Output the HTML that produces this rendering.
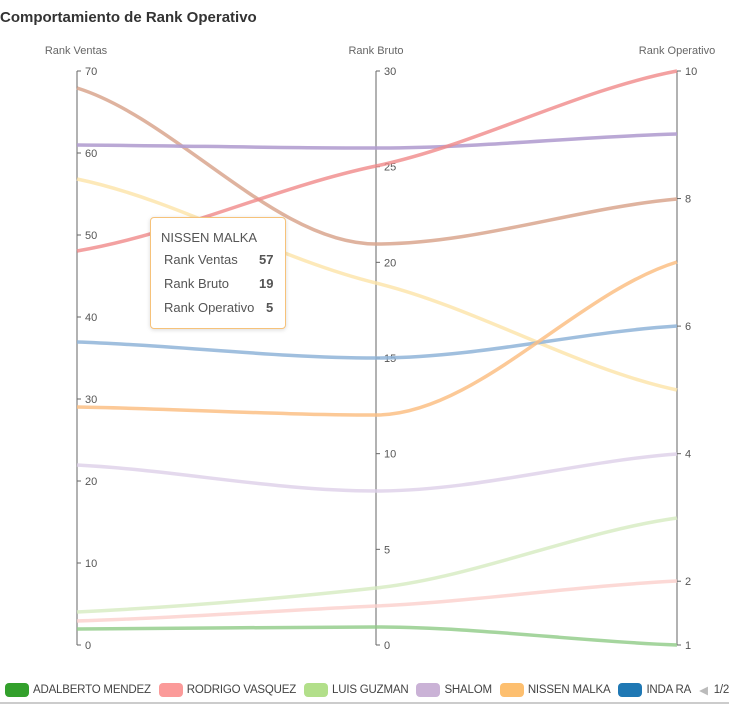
<!DOCTYPE html>
<html><head><meta charset="utf-8"><style>
body{margin:0;background:#fff;width:729px;height:707px;overflow:hidden;font-family:"Liberation Sans",sans-serif;position:relative}
.t{position:absolute;left:0;top:9px;font-size:15px;font-weight:bold;color:#333}
.tip{position:absolute;left:150px;top:217px;width:134px;height:110px;border:1px solid #f6c27a;border-radius:4px;background:#fff;box-shadow:0 1px 4px rgba(0,0,0,.15);font-size:13px;color:#555}
.tip div{position:absolute}
.lg{position:absolute;top:683px;font-size:11.5px;color:#444;display:flex;align-items:center;left:5px;white-space:nowrap;letter-spacing:-0.2px}
.lg span.b{display:inline-block;width:24px;height:14px;border-radius:4px;margin-right:4px}
.lg span.i{margin-right:8px}
</style></head><body>
<div class="t">Comportamiento de Rank Operativo</div>
<svg width="729" height="707" style="position:absolute;left:0;top:0" id="s">
<g font-size="11" fill="#666" font-family="Liberation Sans,sans-serif">
<text x="76" y="54" text-anchor="middle">Rank Ventas</text>
<text x="376" y="54" text-anchor="middle">Rank Bruto</text>
<text x="677" y="54" text-anchor="middle">Rank Operativo</text>
</g>
<g id="ax" stroke="#666" stroke-width="1" fill="none"></g>
<g id="lab" font-size="11" fill="#555" font-family="Liberation Sans,sans-serif"></g>
<g id="ln" fill="none" stroke-width="3.5"></g>
<line x1="0" y1="703" x2="729" y2="703" stroke="#ccc" stroke-width="2"/>
</svg>
<div class="tip">
<div style="left:10px;top:12px">NISSEN MALKA</div>
<div style="left:13px;top:34px">Rank Ventas</div><div style="left:108px;top:34px;font-weight:bold">57</div>
<div style="left:13px;top:58px">Rank Bruto</div><div style="left:108px;top:58px;font-weight:bold">19</div>
<div style="left:13px;top:82px">Rank Operativo</div><div style="left:115px;top:82px;font-weight:bold">5</div>
</div>
<div class="lg">
<span class="b" style="background:#33a02c"></span><span class="i">ADALBERTO MENDEZ</span>
<span class="b" style="background:#fb9a99"></span><span class="i">RODRIGO VASQUEZ</span>
<span class="b" style="background:#b2df8a"></span><span class="i">LUIS GUZMAN</span>
<span class="b" style="background:#cab2d6"></span><span class="i">SHALOM</span>
<span class="b" style="background:#fdbf6f"></span><span class="i">NISSEN MALKA</span>
<span class="b" style="background:#1f78b4"></span><span class="i">INDA RA</span>
<span style="color:#bbb">◀</span><span style="margin-left:6px">1/2</span>
</div>
<script>
(function(){
var NS="http://www.w3.org/2000/svg";
function el(p,t,a,txt){var e=document.createElementNS(NS,t);for(var k in a)e.setAttribute(k,a[k]);if(txt!=null)e.textContent=txt;document.getElementById(p).appendChild(e);}
var xs=[77,376,677],yT=71,yB=645;
xs.forEach(function(x){el('ax','line',{x1:x,y1:yT,x2:x,y2:yB});});
function ticks(x,vals,f){vals.forEach(function(v){var y=f(v);el('ax','line',{x1:x,y1:y,x2:x+4,y2:y});el('lab','text',{x:x+8,y:y+4},v);});}
ticks(77,[0,10,20,30,40,50,60,70],function(v){return yB-(yB-yT)*v/70});
ticks(376,[0,5,10,15,20,25,30],function(v){return yB-(yB-yT)*v/30});
ticks(677,[1,2,4,6,8,10],function(v){return yB-(yB-yT)*(v-1)/9});
var L=[["#d9a68e",88,244,199,.85],["#b39fd0",145,148,134,.9],["#f08a8a",251,166,71,.8],["#fde3a7",179,283,390,.8],["#8fb4d8",342,358,326,.85],["#fbbf85",407,415,262,.85],["#ddd0e8",465,491,454,.8],["#d6ebc0",612,588,518,.8],["#fbcfcc",621,606,581,.8],["#8fca86",629,627,645,.8]];
L.forEach(function(l){var y=[l[1],l[2],l[3]];var s0=(y[1]-y[0])/300,s1=(y[2]-y[1])/300;var m=(s0*s1<=0)?0:(y[2]-y[0])/600*0.7;
var d="M77,"+y[0]+" C177,"+(y[0]+s0*60)+" 276,"+(y[1]-m*100)+" 376,"+y[1]+" C476,"+(y[1]+m*100)+" 577,"+(y[2]-s1*60)+" 677,"+y[2];
el('ln','path',{d:d,stroke:l[0],opacity:l[4]});});
})();
</script>
</body></html>
